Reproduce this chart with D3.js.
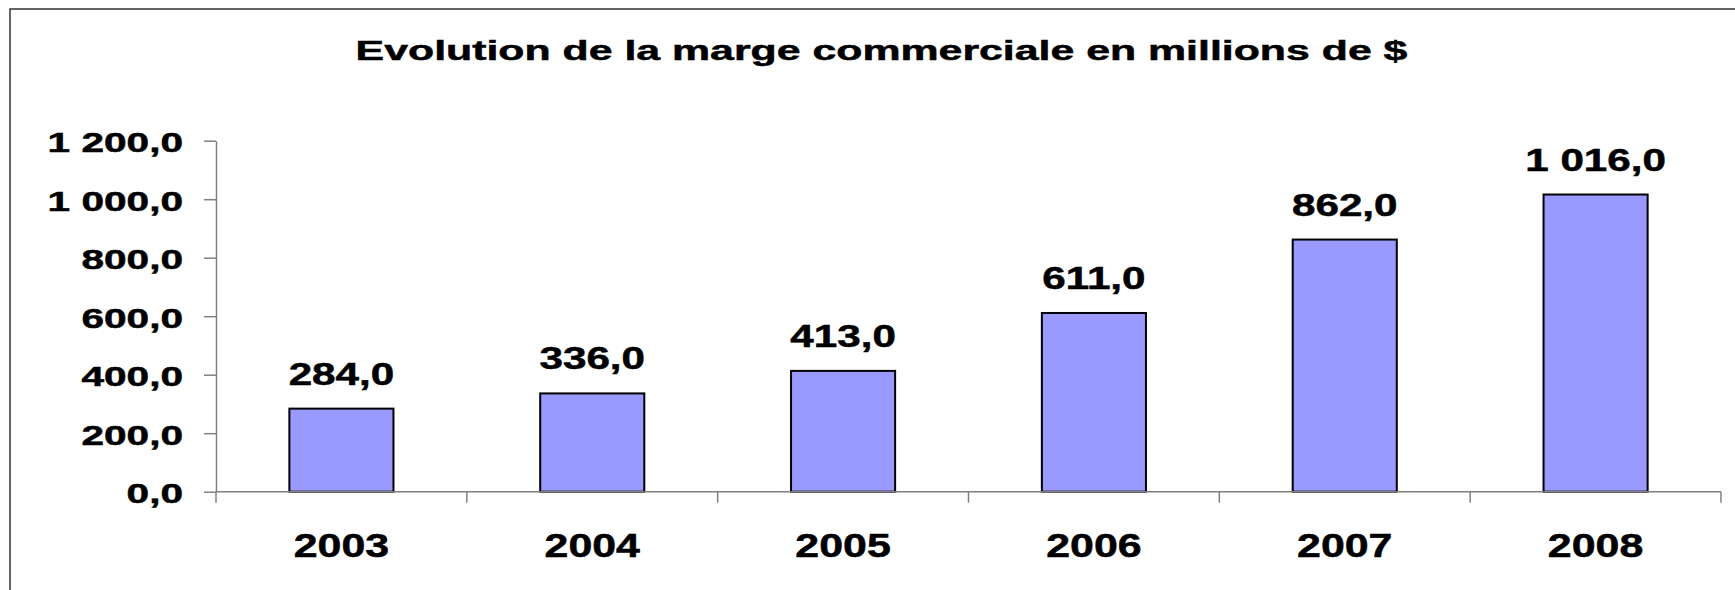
<!DOCTYPE html>
<html>
<head>
<meta charset="utf-8">
<script src="https://cdn.jsdelivr.net/npm/d3@7"></script>
<style>
  html, body { margin: 0; padding: 0; background: #fff; }
  svg { display: block; }
  text { font-family: "Liberation Sans", Arial, Helvetica, sans-serif; font-weight: bold; fill: #000; stroke: #000; stroke-width: 0.5px; }
</style>
</head>
<body>
<svg id="chart" width="1735" height="590"></svg>
<script>
const title = "Evolution de la marge commerciale en millions de $";
const categories = ["2003", "2004", "2005", "2006", "2007", "2008"];
const values = [284, 336, 413, 611, 862, 1016];
const yTicks = [0, 200, 400, 600, 800, 1000, 1200];

(function () {
const W = 1735, H = 590;
const pLeft = 216, pRight = 1721, pTop = 140.7, pBottom = 491.7;

const svg = d3.select("#chart");
const locale = d3.formatLocale({decimal: ",", thousands: " ", grouping: [3], currency: ["", " $"]});
const fmt = locale.format(",.1f");

// frame
svg.append("rect").attr("x", 10).attr("y", 9).attr("width", W + 20).attr("height", H + 20)
  .attr("fill", "#fff").attr("stroke", "#333").attr("stroke-width", 1.5);

// title (horizontally stretched like the reference)
svg.append("text").attr("transform", "translate(881.5,60) scale(1.53,1)").attr("text-anchor", "middle")
  .style("font-size", "28px").text(title);

const x = d3.scaleBand().domain(categories).range([pLeft, pRight]).paddingInner(0.585).paddingOuter(0.2925);
const xb = d3.scaleBand().domain(categories).range([pLeft, pRight]);
const y = d3.scaleLinear().domain([0, 1200]).range([pBottom, pTop]);

// y axis
const yAxis = svg.append("g").attr("transform", `translate(${pLeft},0)`)
  .call(d3.axisLeft(y).tickValues(yTicks).tickSize(12).tickSizeOuter(0).tickFormat(fmt));
yAxis.select(".domain").attr("stroke", "#808080").attr("stroke-width", 1.5);
yAxis.selectAll(".tick line").attr("stroke", "#808080").attr("stroke-width", 1.5);
yAxis.selectAll(".tick text")
  .attr("x", null).attr("dy", null)
  .attr("transform", "translate(-33,11) scale(1.45,1)")
  .style("font-size", "28px")
  .style("font-family", '"Liberation Sans", Arial, sans-serif').style("font-weight", "bold")
  .attr("fill", "#000").attr("stroke", "#000").attr("stroke-width", 0.5);

// bars
svg.append("g").selectAll("rect").data(values).join("rect")
  .attr("x", (d, i) => x(categories[i]))
  .attr("width", x.bandwidth())
  .attr("y", d => y(d))
  .attr("height", d => y(0) - y(d))
  .attr("fill", "#9999FF").attr("stroke", "#000").attr("stroke-width", 2);

// x axis
const boundaries = categories.map(c => xb(c)).concat([pRight]);
const xg = svg.append("g");
xg.append("line").attr("x1", pLeft).attr("x2", pRight).attr("y1", y(0)).attr("y2", y(0))
  .attr("stroke", "#808080").attr("stroke-width", 1.5);
xg.selectAll("line.t").data(boundaries).join("line").attr("class", "t")
  .attr("x1", d => d).attr("x2", d => d).attr("y1", y(0)).attr("y2", y(0) + 11)
  .attr("stroke", "#808080").attr("stroke-width", 1.5);
xg.selectAll("text").data(categories).join("text")
  .attr("transform", d => `translate(${x(d) + x.bandwidth() / 2},557) scale(1.3,1)`)
  .attr("text-anchor", "middle").style("font-size", "33px").text(d => d);

// value labels
svg.append("g").selectAll("text").data(values).join("text")
  .attr("transform", (d, i) => `translate(${x(categories[i]) + x.bandwidth() / 2},${y(d) - 24}) scale(1.36,1)`)
  .attr("text-anchor", "middle").style("font-size", "31px").text(d => fmt(d));
})();
</script>
</body>
</html>
